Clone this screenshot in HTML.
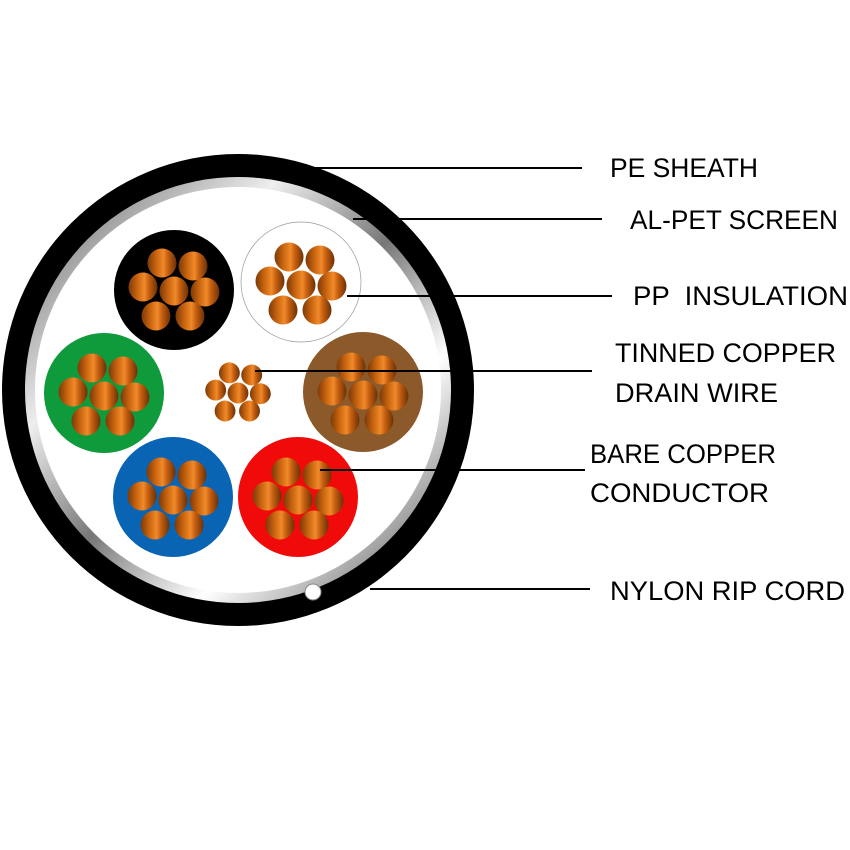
<!DOCTYPE html>
<html><head><meta charset="utf-8"><style>html,body{margin:0;padding:0;background:#fff}svg{display:block}</style></head>
<body>
<svg width="850" height="850" viewBox="0 0 850 850" xmlns="http://www.w3.org/2000/svg">
<defs>
<linearGradient id="cu" x1="0" y1="0" x2="1" y2="0">
<stop offset="0" stop-color="#7a3a08"/>
<stop offset="0.3" stop-color="#c8640f"/>
<stop offset="0.55" stop-color="#f08a2a"/>
<stop offset="0.7" stop-color="#c86010"/>
<stop offset="1" stop-color="#6a3006"/>
</linearGradient>
<linearGradient id="al" x1="0" y1="0" x2="1" y2="1">
<stop offset="0" stop-color="#555"/>
<stop offset="0.3" stop-color="#eee"/>
<stop offset="0.5" stop-color="#777"/>
<stop offset="0.7" stop-color="#fff"/>
<stop offset="1" stop-color="#444"/>
</linearGradient>
<g id="s7">
<circle cx="0" cy="0" r="14.5" fill="url(#cu)"/>
<circle cx="-12" cy="-28" r="14.5" fill="url(#cu)"/>
<circle cx="19" cy="-25" r="14.5" fill="url(#cu)"/>
<circle cx="-31" cy="-4" r="14.5" fill="url(#cu)"/>
<circle cx="31" cy="1" r="14.5" fill="url(#cu)"/>
<circle cx="-18" cy="25" r="14.5" fill="url(#cu)"/>
<circle cx="16" cy="25" r="14.5" fill="url(#cu)"/>
</g>
</defs>
<circle cx="238" cy="390" r="236" fill="#000"/>
<circle cx="238" cy="390" r="213" fill="url(#al)"/>
<circle cx="238" cy="390" r="203" fill="#fff"/>
<circle cx="174" cy="290" r="60" fill="#000"/>
<circle cx="301" cy="282" r="60" fill="#fff" stroke="#999" stroke-width="0.7"/>
<circle cx="104" cy="393" r="60" fill="#0f9a3c"/>
<circle cx="363" cy="392" r="60" fill="#8c5a2a"/>
<circle cx="173" cy="497" r="60" fill="#0a64b4"/>
<circle cx="298" cy="497" r="60" fill="#f00a0a"/>
<use href="#s7" transform="translate(174,291)"/>
<use href="#s7" transform="translate(301,285)"/>
<use href="#s7" transform="translate(104,396)"/>
<use href="#s7" transform="translate(363,395)"/>
<use href="#s7" transform="translate(173,500)"/>
<use href="#s7" transform="translate(298,500)"/>
<use href="#s7" transform="translate(238,393) scale(0.72)"/>
<circle cx="313" cy="592" r="8" fill="#fff" stroke="#888" stroke-width="1"/>
<g stroke="#000" stroke-width="2">
<line x1="315" y1="168" x2="582" y2="168"/>
<line x1="353" y1="219" x2="602" y2="219"/>
<line x1="347" y1="296" x2="612" y2="296"/>
<line x1="255" y1="371" x2="592" y2="371"/>
<line x1="320" y1="470" x2="585" y2="470"/>
<line x1="370" y1="589" x2="590" y2="589"/>
</g>
<g font-family="Liberation Sans, sans-serif" font-size="27" fill="#000">
<text x="610" y="177" textLength="148" lengthAdjust="spacingAndGlyphs">PE SHEATH</text>
<text x="630" y="229" textLength="208" lengthAdjust="spacingAndGlyphs">AL-PET SCREEN</text>
<text x="633" y="305" textLength="215" lengthAdjust="spacingAndGlyphs" xml:space="preserve">PP  INSULATION</text>
<text x="615" y="362" textLength="221" lengthAdjust="spacingAndGlyphs">TINNED COPPER</text>
<text x="615" y="402" textLength="163" lengthAdjust="spacingAndGlyphs">DRAIN WIRE</text>
<text x="590" y="463" textLength="186" lengthAdjust="spacingAndGlyphs">BARE COPPER</text>
<text x="590" y="502" textLength="179" lengthAdjust="spacingAndGlyphs">CONDUCTOR</text>
<text x="610" y="600" textLength="235" lengthAdjust="spacingAndGlyphs">NYLON RIP CORD</text>
</g>
</svg>
</body></html>
